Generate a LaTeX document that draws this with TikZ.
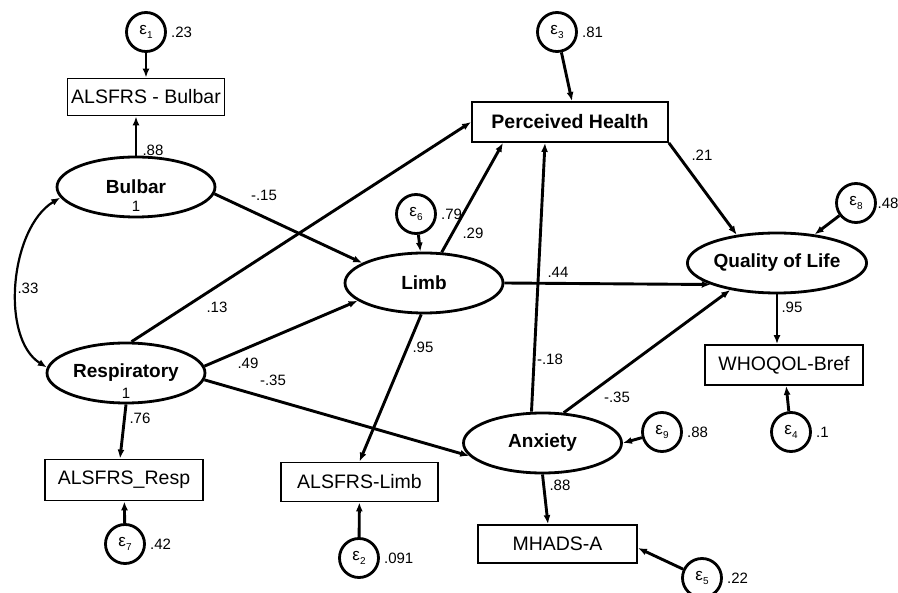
\documentclass[tikz,border=0pt]{standalone}
\usepackage{fontspec}
\setmainfont{Liberation Sans}
\usetikzlibrary{arrows.meta,shapes.geometric}
\newcommand\epsi[1]{ε\raisebox{-0.45ex}{\fontsize{10}{12}\selectfont #1}}
\begin{document}
\begin{tikzpicture}[x=1pt,y=-1pt,
  lat/.style={ellipse,draw,line width=2.8pt,minimum width=158pt,minimum height=60pt,inner sep=0pt,font=\fontsize{19}{21}\selectfont\bfseries},
  obs/.style={rectangle,draw,line width=1.8pt,minimum width=157pt,minimum height=39pt,inner sep=0pt,font=\fontsize{19.5}{21}\selectfont},
  err/.style={circle,draw,line width=2.8pt,minimum size=39pt,inner sep=0pt,font=\fontsize{17}{19}\selectfont},
  arr/.style={line width=2.9pt,-{Latex[length=9pt,width=7pt]}},
  lab/.style={font=\fontsize{15}{17}\selectfont,inner sep=1pt},
  vlab/.style={lab,anchor=west},
]
\fill[white] (0,0) rectangle (898,593);
\useasboundingbox (0,0) rectangle (898,593);

% latent variables
\node[lat] (bulbar) at (136,187) {Bulbar};
\node[lat] (resp) at (126,373) {Respiratory};
\node[lat] (limb) at (424,283) {Limb};
\node[lat] (qol) at (777,263) {Quality of Life};
\node[lat] (anx) at (542.5,443) {Anxiety};
\node[lab] (bone) at ([yshift=-19pt]bulbar.center) {1};
\node[lab] (rone) at ([yshift=-20pt]resp.center) {1};

% observed variables
\node[obs,minimum height=37pt] (abul) at (146,97) {ALSFRS - Bulbar};
\node[obs,minimum width=158pt,minimum height=41pt] (aresp) at (124,480) {ALSFRS\_Resp};
\node[obs] (alimb) at (359.5,482) {ALSFRS-Limb};
\node[obs,minimum width=196pt,minimum height=40pt,font=\fontsize{19.5}{21}\selectfont\bfseries] (ph) at (570,122) {Perceived Health};
\node[obs,minimum width=158pt,minimum height=40pt] (who) at (784,365) {WHOQOL-Bref};
\node[obs,minimum width=159pt,minimum height=38pt] (mhads) at (557.5,544) {MHADS-A};

% error terms
\node[err] (e1) at (146,32) {\epsi{1}};
\node[err] (e2) at (359,558) {\epsi{2}};
\node[err] (e3) at (557,32) {\epsi{3}};
\node[err] (e4) at (791,432) {\epsi{4}};
\node[err] (e5) at (702,578) {\epsi{5}};
\node[err] (e6) at (416,214) {\epsi{6}};
\node[err] (e7) at (125,544) {\epsi{7}};
\node[err] (e8) at (856,203) {\epsi{8}};
\node[err] (e9) at (662,432) {\epsi{9}};

% error variances
\node[vlab] (v1) at ([xshift=3pt]e1.east) {.23};
\node[vlab] (v2) at ([xshift=3pt]e2.east) {.091};
\node[vlab] (v3) at ([xshift=3pt]e3.east) {.81};
\node[vlab] (v4) at ([xshift=3pt]e4.east) {.1};
\node[vlab] (v5) at ([xshift=3pt]e5.east) {.22};
\node[vlab] (v6) at ([xshift=3pt]e6.east) {.79};
\node[vlab] (v7) at ([xshift=3pt]e7.east) {.42};
\node[vlab,inner sep=0pt] (v8) at ([xshift=0.5pt]e8.east) {.48};
\node[vlab] (v9) at ([xshift=3pt]e9.east) {.88};

% paths
\draw[arr] (e1) -- (abul);
\draw[arr] (bulbar.north) -- ([xshift=-10pt]abul.south);
\draw[line width=2.2pt,{Latex[length=9pt,width=7pt]}-{Latex[length=9pt,width=7pt]}] (bulbar.188) .. controls (10,228) and (0,338) .. (resp.176);
\draw[arr] (bulbar.355) -- (limb.162);
\draw[arr] (resp.80) -- (ph.west);
\draw[arr] (resp.5) -- (limb.195);
\draw[arr] (resp.355) -- (anx.190);
\draw[arr] (resp.south) -- ([xshift=-4pt]aresp.north);
\draw[arr] (e7) -- (aresp);
\draw[arr] (e6) -- (limb);
\draw[arr] (limb.60) -- ([xshift=-67pt]ph.south);
\draw[arr] (limb.east) -- (qol.198);
\draw[arr] (limb.265) -- (alimb.north);
\draw[arr] (e2) -- (alimb);
\draw[arr] (e3) -- ([xshift=2pt]ph.north);
\draw[arr] (ph.south east) -- (qol.145);
\draw[arr] ([xshift=-11pt]anx.north) -- ([xshift=-25pt]ph.south);
\draw[arr] (anx.55) -- (qol.210);
\draw[arr] (e9) -- (anx.east);
\draw[arr] (anx.south) -- ([xshift=-9.5pt]mhads.north);
\draw[arr] (e5) -- ([yshift=-4pt]mhads.east);
\draw[arr] (qol.south) -- ([xshift=-7pt]who.north);
\draw[arr] (e4) -- (who);
\draw[arr] (e8) -- (qol);

% coefficients
\node[lab] (c1) at (153,150) {.88};
\node[lab] (c2) at (264,195) {-.15};
\node[lab] (c3) at (217,307) {.13};
\node[lab] (c4) at (28,288) {.33};
\node[lab] (c5) at (248,363) {.49};
\node[lab] (c6) at (273,380) {-.35};
\node[lab] (c7) at (140,418) {.76};
\node[lab] (c8) at (473,233) {.29};
\node[lab] (c9) at (423,347) {.95};
\node[lab] (c10) at (558,272) {.44};
\node[lab] (c11) at (702,155) {.21};
\node[lab] (c12) at (792,307) {.95};
\node[lab] (c13) at (550,359) {-.18};
\node[lab] (c14) at (617,397) {-.35};
\node[lab] (c15) at (560,485) {.88};
\end{tikzpicture}
\end{document}
